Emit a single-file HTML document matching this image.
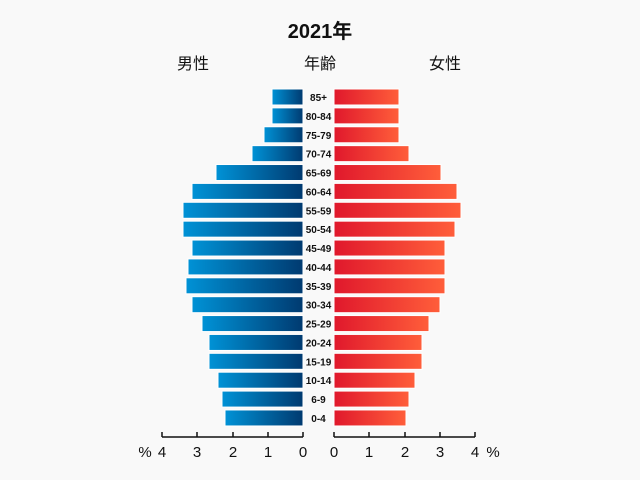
<!DOCTYPE html>
<html><head><meta charset="utf-8"><style>
html,body{margin:0;padding:0;background:#f9f9f9;}
svg{display:block;font-family:"Liberation Sans","Noto Sans CJK JP",sans-serif;}
</style></head><body>
<svg width="640" height="480" viewBox="0 0 640 480">
<defs>
<linearGradient id="m" x1="0" x2="1" y1="0" y2="0"><stop offset="0" stop-color="#0092d6"/><stop offset="1" stop-color="#003a70"/></linearGradient>
<linearGradient id="f" x1="0" x2="1" y1="0" y2="0"><stop offset="0" stop-color="#e0182c"/><stop offset="1" stop-color="#ff5e3a"/></linearGradient>
</defs>
<rect width="640" height="480" fill="#f9f9f9"/>
<text x="320" y="38" text-anchor="middle" font-size="20" font-weight="bold" fill="#111">2021年</text>
<text x="193" y="69" text-anchor="middle" font-size="16" fill="#111">男性</text>
<text x="320" y="69" text-anchor="middle" font-size="16" fill="#111">年齢</text>
<text x="445" y="69" text-anchor="middle" font-size="16" fill="#111">女性</text>
<g stroke="#ffffff" stroke-width="1">
<rect x="272" y="89" width="31" height="16" fill="url(#m)"/><rect x="334" y="89" width="65" height="16" fill="url(#f)"/>
<rect x="272" y="107.88" width="31" height="16" fill="url(#m)"/><rect x="334" y="107.88" width="65" height="16" fill="url(#f)"/>
<rect x="264" y="126.76" width="39" height="16" fill="url(#m)"/><rect x="334" y="126.76" width="65" height="16" fill="url(#f)"/>
<rect x="252" y="145.64" width="51" height="16" fill="url(#m)"/><rect x="334" y="145.64" width="75" height="16" fill="url(#f)"/>
<rect x="216" y="164.52" width="87" height="16" fill="url(#m)"/><rect x="334" y="164.52" width="107" height="16" fill="url(#f)"/>
<rect x="192" y="183.4" width="111" height="16" fill="url(#m)"/><rect x="334" y="183.4" width="123" height="16" fill="url(#f)"/>
<rect x="183" y="202.28" width="120" height="16" fill="url(#m)"/><rect x="334" y="202.28" width="127" height="16" fill="url(#f)"/>
<rect x="183" y="221.16" width="120" height="16" fill="url(#m)"/><rect x="334" y="221.16" width="121" height="16" fill="url(#f)"/>
<rect x="192" y="240.04" width="111" height="16" fill="url(#m)"/><rect x="334" y="240.04" width="111" height="16" fill="url(#f)"/>
<rect x="188" y="258.92" width="115" height="16" fill="url(#m)"/><rect x="334" y="258.92" width="111" height="16" fill="url(#f)"/>
<rect x="186" y="277.8" width="117" height="16" fill="url(#m)"/><rect x="334" y="277.8" width="111" height="16" fill="url(#f)"/>
<rect x="192" y="296.68" width="111" height="16" fill="url(#m)"/><rect x="334" y="296.68" width="106" height="16" fill="url(#f)"/>
<rect x="202" y="315.56" width="101" height="16" fill="url(#m)"/><rect x="334" y="315.56" width="95" height="16" fill="url(#f)"/>
<rect x="209" y="334.44" width="94" height="16" fill="url(#m)"/><rect x="334" y="334.44" width="88" height="16" fill="url(#f)"/>
<rect x="209" y="353.32" width="94" height="16" fill="url(#m)"/><rect x="334" y="353.32" width="88" height="16" fill="url(#f)"/>
<rect x="218" y="372.2" width="85" height="16" fill="url(#m)"/><rect x="334" y="372.2" width="81" height="16" fill="url(#f)"/>
<rect x="222" y="391.08" width="81" height="16" fill="url(#m)"/><rect x="334" y="391.08" width="75" height="16" fill="url(#f)"/>
<rect x="225" y="409.96" width="78" height="16" fill="url(#m)"/><rect x="334" y="409.96" width="72" height="16" fill="url(#f)"/>
</g>
<g font-size="10" font-weight="bold" fill="#111" text-anchor="middle">
<text x="318.5" y="101">85+</text>
<text x="318.5" y="119.88">80-84</text>
<text x="318.5" y="138.76">75-79</text>
<text x="318.5" y="157.64">70-74</text>
<text x="318.5" y="176.52">65-69</text>
<text x="318.5" y="195.4">60-64</text>
<text x="318.5" y="214.28">55-59</text>
<text x="318.5" y="233.16">50-54</text>
<text x="318.5" y="252.04">45-49</text>
<text x="318.5" y="270.92">40-44</text>
<text x="318.5" y="289.8">35-39</text>
<text x="318.5" y="308.68">30-34</text>
<text x="318.5" y="327.56">25-29</text>
<text x="318.5" y="346.44">20-24</text>
<text x="318.5" y="365.32">15-19</text>
<text x="318.5" y="384.2">10-14</text>
<text x="318.5" y="403.08">6-9</text>
<text x="318.5" y="421.96">0-4</text>
</g>
<g stroke="#111" stroke-width="1.5" fill="none">
<path d="M162,437H303M162,437V432M197,437V432M233,437V432M268,437V432M303,437V432"/>
<path d="M334,437H475M334,437V432M369,437V432M405,437V432M440,437V432M475,437V432"/>
</g>
<g font-size="15" fill="#111" text-anchor="middle">
<text x="162" y="457">4</text><text x="197" y="457">3</text><text x="233" y="457">2</text><text x="268" y="457">1</text><text x="303" y="457">0</text>
<text x="334" y="457">0</text><text x="369" y="457">1</text><text x="405" y="457">2</text><text x="440" y="457">3</text><text x="475" y="457">4</text>
<text x="145" y="457">%</text><text x="493" y="457">%</text>
</g>
</svg>
</body></html>
